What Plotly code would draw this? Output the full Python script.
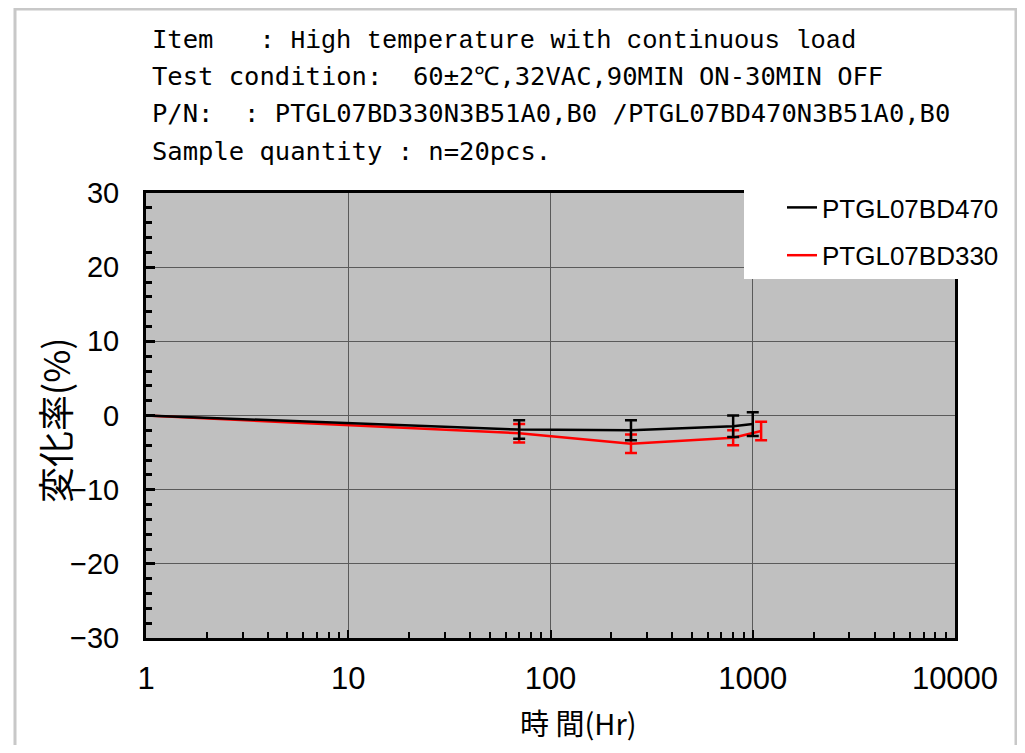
import plotly.graph_objects as go

# ---- data ----
hours_470 = [1, 70, 250, 800, 1000]
change_470 = [0.0, -1.9, -2.0, -1.45, -1.15]
err_470 = [0.0, 1.25, 1.35, 1.45, 1.6]

hours_330 = [1, 70, 250, 800, 1100]
change_330 = [0.0, -2.4, -3.8, -3.0, -2.1]
err_330 = [0.0, 1.25, 1.25, 1.0, 1.25]

names = ["PTGL07BD470", "PTGL07BD330"]
x_ticks = [1, 10, 100, 1000, 10000]
x_tick_text = ["1", "10", "100", "1000", "10000"]
y_ticks = [-30, -20, -10, 0, 10, 20, 30]

header_lines = [
    "Item   : <span style=\"font-family:'Liberation Mono'\">High temperature with continuous load</span>",
    "Test condition:  60±2℃,32VAC,90MIN ON-30MIN OFF",
    "P/N:  : PTGL07BD330N3B51A0,B0 /PTGL07BD470N3B51A0,B0",
    "Sample quantity : n=20pcs.",
]
y_title = "変化率(%)"
x_title = "時 間(Hr)"

OFF = 8  # page body margin
W, H = 1025 - 2 * OFF, 753 - 2 * OFF
L, T = 146 - OFF, 193 - OFF
R, B = W - (955 - OFF), H - (638 - OFF)
pw, ph = W - L - R, H - T - B


def px_x(p):
    return (p - OFF - L) / pw


def px_y(p):
    return (H - B - (p - OFF)) / ph


fig = go.Figure()
fig.add_trace(go.Scatter(
    x=hours_330, y=change_330, name=names[1], mode="lines",
    line=dict(color="#ff0000", width=2.5),
    error_y=dict(type="data", array=err_330, visible=True, color="#ff0000", thickness=2.5, width=6),
    legendgroup="b", legendrank=2,
))
fig.add_trace(go.Scatter(
    x=hours_470, y=change_470, name=names[0], mode="lines",
    line=dict(color="#000000", width=2.5),
    error_y=dict(type="data", array=err_470, visible=True, color="#000000", thickness=2.5, width=6),
    legendgroup="a", legendrank=1,
))

annotations = []
for txt, yp in zip(header_lines, [40, 76, 113, 151]):
    annotations.append(dict(
        text=txt, xref="paper", yref="paper", x=px_x(150), y=px_y(yp),
        xanchor="left", yanchor="middle", showarrow=False,
        font=dict(family="DejaVu Sans Mono", size=25.5, color="black"),
    ))
annotations.append(dict(
    text=y_title, xref="paper", yref="paper", x=px_x(54), y=px_y(420),
    xanchor="center", yanchor="middle", textangle=-90, showarrow=False,
    font=dict(family="Noto Sans CJK JP", size=36, color="black"),
))
annotations.append(dict(
    text=x_title, xref="paper", yref="paper", x=px_x(578), y=px_y(722),
    xanchor="center", yanchor="middle", showarrow=False,
    font=dict(family="Noto Sans CJK JP", size=29, color="black"),
))

fig.update_layout(
    width=W, height=H,
    margin=dict(l=L, r=R, t=T, b=B, autoexpand=False),
    paper_bgcolor="white",
    plot_bgcolor="#c0c0c0",
    showlegend=True,
    legend=dict(
        x=px_x(744), y=px_y(184), xanchor="left", yanchor="top",
        bgcolor="white", borderwidth=0,
        font=dict(family="Liberation Sans", size=26, color="black"),
        traceorder="grouped", tracegroupgap=11, indentation=38,
    ),
    annotations=annotations,
    shapes=[dict(
        type="rect", xref="paper", yref="paper",
        x0=px_x(15), x1=px_x(1016), y0=px_y(800), y1=px_y(9),
        line=dict(color="#c8c8c8", width=3), fillcolor="rgba(0,0,0,0)", layer="below",
    )],
)

fig.update_xaxes(
    type="log", range=[0, 4],
    tickvals=x_ticks, ticktext=x_tick_text,
    ticks="inside", ticklen=8, tickwidth=2, tickcolor="black",
    showline=True, linecolor="black", linewidth=3, mirror=True,
    showgrid=True, gridcolor="#5a5a5a", gridwidth=1,
    zeroline=False,
    tickfont=dict(family="Liberation Sans", size=31, color="black"),
    ticklabelstandoff=11,
    minor=dict(ticks="inside", ticklen=6, tickwidth=2, tickcolor="black", showgrid=False, dtick="D1"),
)
fig.update_yaxes(
    range=[-30, 30], tickvals=y_ticks,
    ticks="inside", ticklen=9, tickwidth=2.5, tickcolor="black",
    showline=True, linecolor="black", linewidth=3, mirror=True,
    showgrid=True, gridcolor="#5a5a5a", gridwidth=1,
    zeroline=False,
    tickfont=dict(family="Liberation Sans", size=29, color="black"),
    ticklabelstandoff=18,
    minor=dict(ticks="inside", ticklen=6, tickwidth=2.5, tickcolor="black", showgrid=False, dtick=2),
)

fig.write_html("out.html")
